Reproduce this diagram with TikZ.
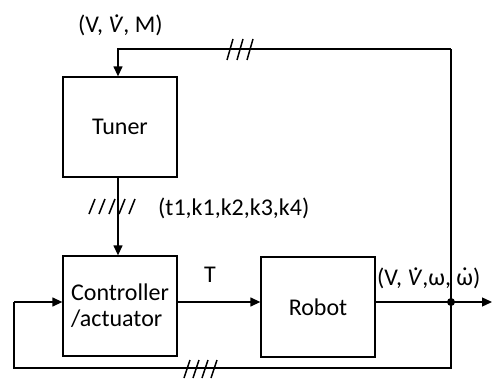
\documentclass[tikz,border=0pt]{standalone}
\usepackage{fontspec}
\setmainfont{Carlito}
\usetikzlibrary{arrows.meta}
\newcommand\dotover[2][0pt]{{\ooalign{#2\cr\hidewidth\kern#1\raisebox{0.6em}{.}\hidewidth\cr}}}
\begin{document}
\begin{tikzpicture}[x=1pt,y=-1pt,
  every node/.style={font=\fontsize{24}{28}\selectfont},
  blk/.style={draw,line width=1.3pt,minimum width=114pt,minimum height=100pt,inner sep=0pt},
  wire/.style={line width=1.3pt},
  arr/.style={wire,-{Triangle[length=10pt,width=9pt]}},
  hatch/.style={line width=1.5pt}]
\useasboundingbox (0,0) rectangle (492,380);
\node[blk] (tuner) at (120,127) {Tuner};
\node[blk,align=left] (ctrl) at (120,306) {Controller\\[-2pt]/actuator};
\node[blk] (robot) at (318,307) {Robot};
\coordinate (j) at (451,302);
\coordinate (tr) at (451,49);
\coordinate (tl) at (118,49);
\coordinate (out) at (492,302);
\coordinate (bl) at (14,368);
\coordinate (br) at (451,368);
\coordinate (blu) at (14,302);
\draw[arr] (tr) -- (tl) -- (tuner.north -| tl);
\draw[wire] (j) -- (tr);
\draw[arr] (tuner.south -| tl) -- (ctrl.north -| tl);
\draw[arr] (ctrl.east |- j) -- (robot.west |- j);
\draw[arr] (robot.east |- j) -- (out);
\draw[wire] (j) -- (br) -- (bl) -- (blu);
\draw[arr] (blu) -- (ctrl.west |- j);
\fill (j) circle (4pt);
% hatches
\foreach \x in {230,240,250} \draw[hatch] (\x-3,60) -- (\x+3,39);
\foreach \x in {187,196,205,214} \draw[hatch] (\x-3,378) -- (\x+3,360);
\foreach \x in {92,102,112,122,132} \draw[hatch] (\x-3,214) -- (\x+3,199);
% labels
\node[anchor=west,inner sep=0pt] (l1) at (78,25) {(V, \dotover[2pt]{\textit{V}}, M)};
\node[anchor=west,inner sep=0pt] (l2) at (158,208) {(t1,k1,k2,k3,k4)};
\node[inner sep=0pt] (l3) at (210,275) {T};
\node[anchor=west,inner sep=0pt] (l4) at (377,278) {(V, \dotover[2pt]{\textit{V}},ω, \dotover[0pt]{ω})};
\end{tikzpicture}
\end{document}
